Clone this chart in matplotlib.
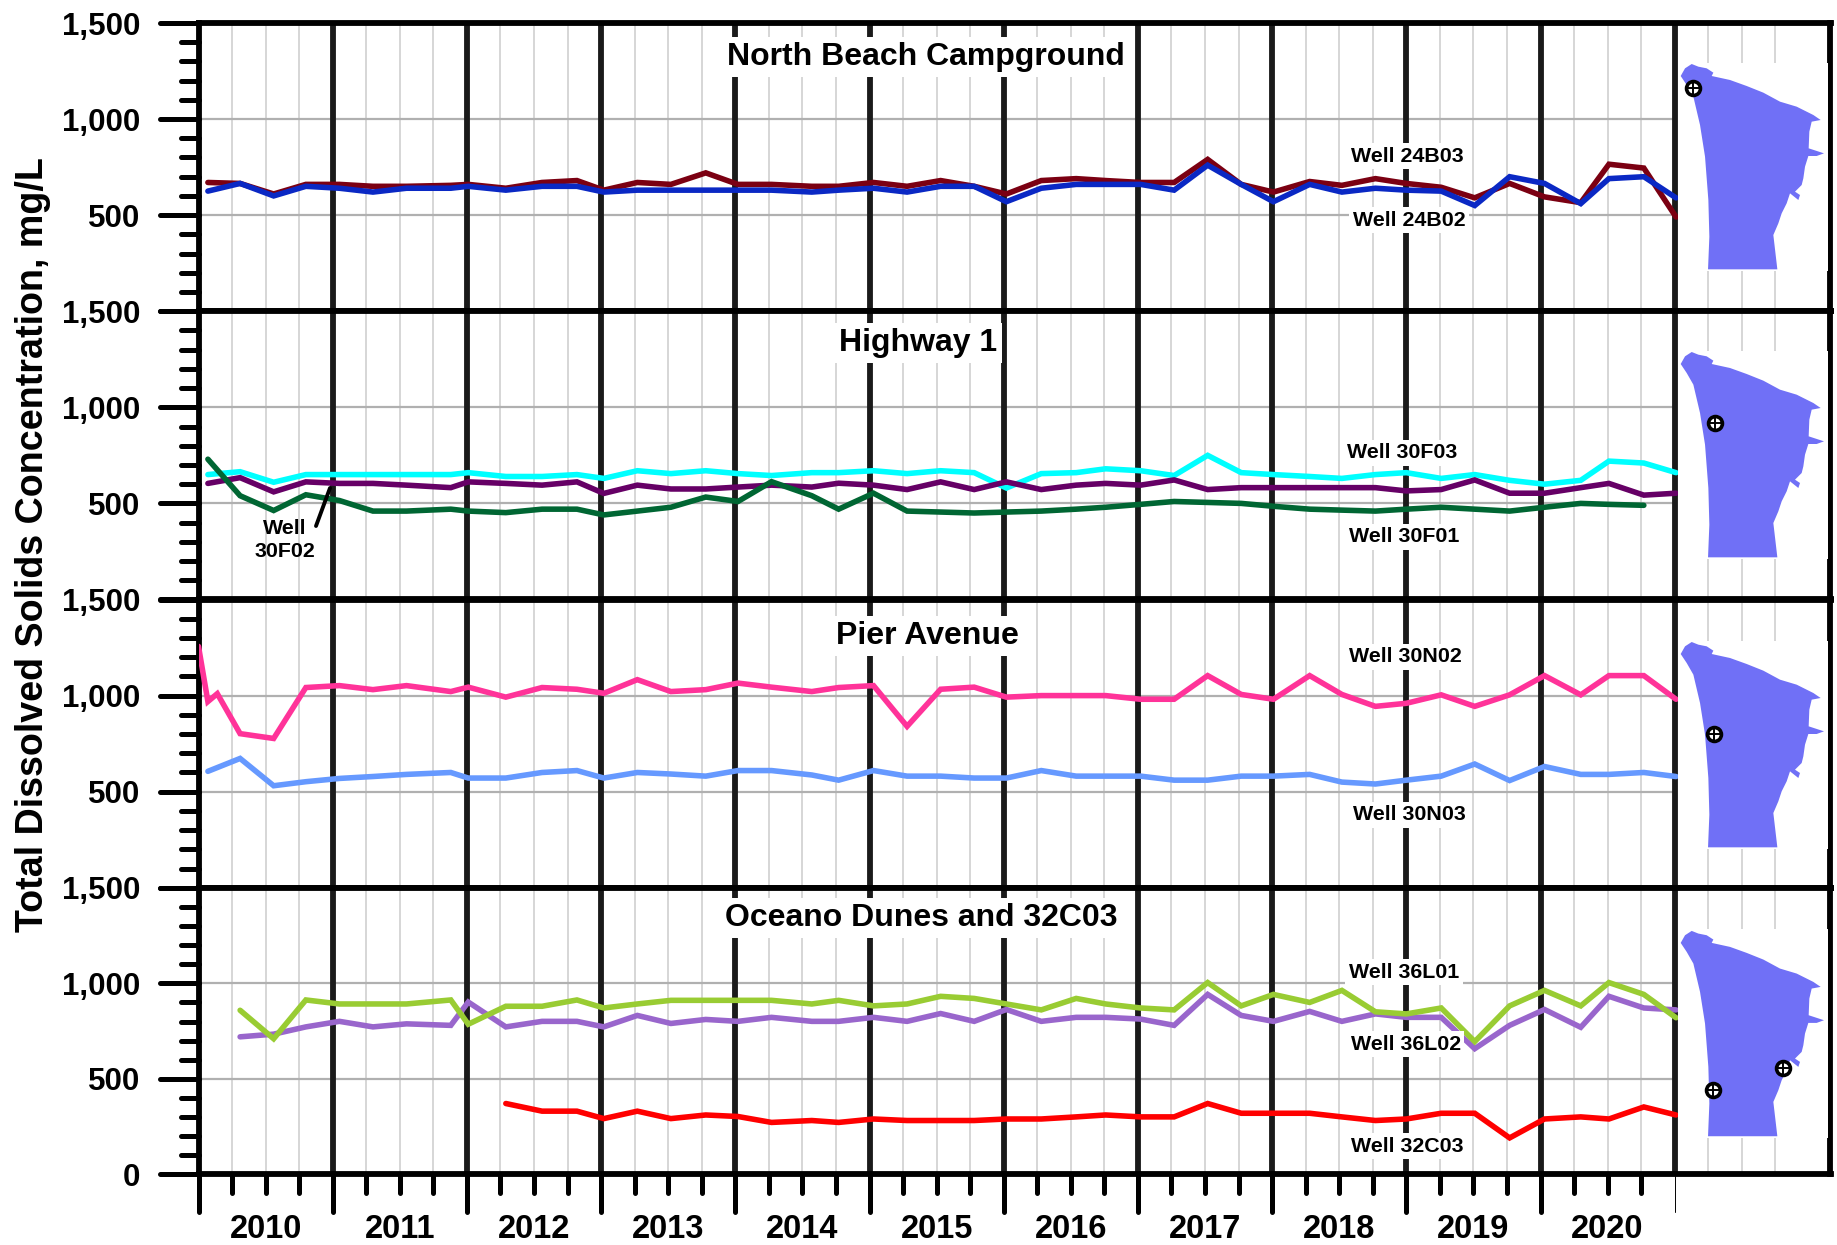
import matplotlib
matplotlib.use("Agg")
import matplotlib.pyplot as plt
from matplotlib.markers import MarkerStyle
from matplotlib.ticker import FixedLocator, FuncFormatter

plt.rcParams['font.family'] = ['Liberation Sans', 'DejaVu Sans']
plt.rcParams['font.weight'] = 'bold'

W, H = 1837, 1245

dates = [2010.07, 2010.31, 2010.56, 2010.80, 2011.05, 2011.30, 2011.55, 2011.88, 2012.01, 2012.29,
         2012.56, 2012.82, 2013.02, 2013.27, 2013.52, 2013.78, 2014.02, 2014.27, 2014.57, 2014.77,
         2015.03, 2015.28, 2015.53, 2015.78, 2016.02, 2016.28, 2016.54, 2016.76, 2017.02, 2017.27,
         2017.52, 2017.77, 2018.01, 2018.28, 2018.52, 2018.77, 2019.00, 2019.26, 2019.51, 2019.77,
         2020.03, 2020.30, 2020.51, 2020.77, 2021.01]
dates_30n02 = [2010.00, 2010.07, 2010.14] + dates[1:]

w24b03 = [670, 665, 610, 660, 660, 650, 650, 655, 660, 640, 670, 680, 630, 670, 660, 720, 660, 660, 650, 650,
          670, 650, 680, 650, 610, 680, 690, 680, 670, 670, 790, 660, 620, 675, 655, 690, 665, 645, 590, 665,
          595, 565, 765, 745, 490]
w24b02 = [625, 665, 600, 650, 640, 620, 640, 640, 650, 630, 650, 650, 620, 630, 630, 630, 630, 630, 620, 630,
          640, 620, 650, 650, 570, 640, 660, 660, 660, 630, 760, 660, 570, 660, 620, 640, 630, 625, 550, 700,
          665, 560, 690, 700, 590]
w30f03 = [650, 665, 610, 650, 650, 650, 650, 650, 660, 640, 640, 650, 630, 670, 655, 670, 655, 645, 660, 660,
          670, 655, 670, 660, 580, 655, 660, 680, 670, 645, 750, 660, 650, 640, 630, 650, 660, 630, 650, 620,
          600, 620, 720, 710, 660]
w30f02 = [604, 634, 560, 612, 604, 604, 595, 582, 612, 604, 595, 612, 552, 595, 575, 575, 585, 595, 585, 605,
          595, 572, 612, 572, 612, 572, 595, 604, 595, 622, 572, 582, 582, 582, 582, 582, 565, 572, 622, 553,
          553, 582, 604, 543, 553]
w30f01 = [730, 540, 463, 545, 515, 460, 460, 470, 460, 452, 470, 470, 440, 460, 480, 533, 510, 613, 540, 470,
          553, 460, 455, 450, 455, 460, 470, 480, 495, 510, 505, 500, 485, 470, 465, 460, 470, 480, 470, 460,
          480, 500, 495, 490]
w30n02 = [1256, 969, 1010, 802, 777, 1042, 1052, 1031, 1052, 1021, 1044, 992, 1042, 1033, 1012, 1083, 1021, 1031,
          1065, 1044, 1021, 1042, 1052, 840, 1033, 1044, 992, 1000, 1000, 1000, 981, 981, 1104, 1006, 981, 1104,
          1006, 944, 960, 1004, 944, 1004, 1104, 1004, 1104, 1104, 981]
w30n03 = [606, 673, 531, 552, 569, 579, 590, 600, 571, 571, 600, 610, 571, 600, 592, 581, 610, 610, 587, 560,
          610, 581, 581, 571, 571, 610, 581, 581, 581, 560, 560, 581, 581, 590, 550, 540, 560, 581, 644, 558,
          631, 590, 590, 600, 579]
w36l02 = [720, 734, 772, 801, 772, 788, 780, 902, 772, 801, 801, 772, 832, 790, 811, 801, 822, 801, 801,
          822, 801, 842, 801, 863, 801, 822, 822, 813, 780, 942, 832, 801, 853, 801, 840, 822, 822, 658, 780,
          863, 770, 932, 871, 861]
w36l01 = [859, 710, 913, 892, 892, 892, 913, 786, 880, 880, 913, 871, 892, 911, 911, 911, 911, 892, 911,
          882, 892, 932, 921, 892, 861, 921, 892, 871, 861, 1004, 882, 942, 900, 963, 851, 840, 871, 695, 882,
          963, 882, 1004, 942, 820]
w32c03 = [371, 331, 331, 292, 331, 292, 311, 303, 272, 282, 272, 290, 282, 282, 282, 290, 290, 301, 311, 301,
          301, 371, 320, 320, 320, 301, 282, 290, 320, 320, 191, 290, 301, 290, 353, 311]

years = list(range(2010, 2021))
y_labels = {1500: '1,500', 1000: '1,000', 500: '500'}

map_x = [32, 45, 65, 85, 110, 130, 125, 180, 230, 280, 330, 380, 430, 452, 425, 418, 416, 462, 440, 415,
         405, 400, 395, 375, 390, 385, 360, 350, 335, 325, 310, 322, 114, 118, 115, 105, 90, 70, 50]
map_y = [78, 55, 42, 50, 55, 68, 78, 90, 108, 128, 155, 170, 195, 210, 215, 245, 295, 310, 318, 318,
         350, 385, 405, 425, 435, 450, 430, 460, 490, 520, 555, 658, 658, 560, 450, 320, 225, 140, 105]
well_x = [[68], [136], [132], [340, 130]]
well_y = [[113], [256], [318], [452, 520]]

tops = [23, 311.2, 599.5, 887.8]
bottoms = [311.2, 599.5, 887.8, 1174.4]
map_off = [0, 288, 578, 866.9]
LEFT, RIGHT = 198.5, 1830.5
XMAX = 2010 + (RIGHT - LEFT) / 134.2

panels = [
    [(dates, w24b03, '#7b0012'), (dates, w24b02, '#0a28c4')],
    [(dates, w30f03, '#00ffff'), (dates, w30f02, '#660066'), (dates[:44], w30f01, '#006633')],
    [(dates_30n02, w30n02, '#ff3399'), (dates, w30n03, '#6699ff')],
    [(dates[1:], w36l02, '#9966cc'), (dates[1:], w36l01, '#99cc33'), (dates[9:], w32c03, '#ff0000')],
]

fig = plt.figure(figsize=(W / 100, H / 100), dpi=100, facecolor='white')


def rect(x0, y0, x1, y1):
    return [x0 / W, 1 - y1 / H, (x1 - x0) / W, (y1 - y0) / H]


def ftext(x, y, s, size, **kw):
    fig.text(x / W, 1 - y / H, s, fontsize=size, ha='center', va='center', zorder=20,
             fontweight='bold', color='black', **kw)


def round_ticks(lines):
    for ln in lines:
        ln.set_marker(MarkerStyle(ln.get_marker(), capstyle='round'))


quarters = [y + q for y in range(2010, 2022) for q in (0.25, 0.5, 0.75)]
quarters = [q for q in quarters if q < XMAX]

for i, series in enumerate(panels):
    ax = fig.add_axes(rect(LEFT, tops[i], RIGHT, bottoms[i]))
    ax.set_xlim(2010, XMAX)
    ax.set_ylim(0, 1500)
    for sp in ax.spines.values():
        sp.set_linewidth(4.2)
        sp.set_color('black')
    ax.vlines(quarters, 0, 1500, color='#d0d0d0', lw=1.2, zorder=1)
    ax.hlines([500, 1000], 2010, 2021, color='#b0b0b0', lw=1.6, zorder=1.2)
    ax.vlines(years[1:] + [2021], 0, 1500, color='#1a1a1a', lw=4.2, zorder=1.5)
    for xs, ys, c in series:
        ax.plot(xs, ys, color=c, lw=4.0, zorder=3, solid_joinstyle='miter', solid_capstyle='round')

    ax.yaxis.set_major_locator(FixedLocator([0, 500, 1000, 1500]))
    ax.yaxis.set_minor_locator(FixedLocator([v for v in range(100, 1500, 100) if v % 500]))
    last = i == 3
    ax.yaxis.set_major_formatter(FuncFormatter(
        lambda v, p, last=last: y_labels.get(int(v), '0' if last else '')))
    ax.tick_params(axis='y', which='major', length=28, width=3.6, pad=14, labelsize=22.5)
    ax.tick_params(axis='y', which='minor', length=13, width=3.6)
    round_ticks(ax.yaxis.get_ticklines())
    round_ticks(ax.yaxis.get_ticklines(minor=True))

    if last:
        ax.set_xticks(years + [2021])
        ax.set_xticklabels([])
        ax.set_xticks([q for q in quarters if q < 2021], minor=True)
        ax.tick_params(axis='x', which='major', length=27, width=3.6)
        ax.tick_params(axis='x', which='minor', length=14, width=3.6)
        round_ticks(ax.xaxis.get_ticklines())
        round_ticks(ax.xaxis.get_ticklines(minor=True))
        ax.xaxis.get_major_ticks()[-1].tick1line.set_markeredgewidth(0.7)
        for y in years:
            ax.annotate(str(y), (y + 0.5, 0), xytext=(0, -40), textcoords='offset points',
                        ha='center', va='center', fontsize=23.5, fontweight='bold')
    else:
        ax.set_xticks([])

    # location map (coordinates in a local map frame)
    off = map_off[i]
    m = fig.add_axes(rect(1677.7, 62.5 + off, 1828, 271 + off), zorder=5)
    m.set_xlim(23, 474)
    m.set_ylim(663, 37.5)
    m.set_xticks([])
    m.set_yticks([])
    m.set_facecolor('white')
    for sp in m.spines.values():
        sp.set_visible(False)
    m.fill(map_x, map_y, color='#7070f6', lw=0)
    m.scatter(well_x[i], well_y[i], s=100, fc='white', ec='black', lw=2.6, zorder=3)
    m.scatter(well_x[i], well_y[i], s=100, marker='+', c='black', lw=1.4, zorder=4)

title_box = dict(fc='white', ec='none', pad=3.5)
ftext(926, 57, 'North Beach Campground', 23, bbox=title_box)
ftext(918, 343, 'Highway 1', 23, bbox=title_box)
ftext(927, 636, 'Pier Avenue', 23, bbox=title_box)
ftext(921.5, 918, 'Oceano Dunes and 32C03', 23, bbox=title_box)

lab_box = dict(fc='white', ec='none', pad=2.5)
for x, y, s in [(1407, 156, 'Well 24B03'), (1409, 220, 'Well 24B02'), (1402, 453, 'Well 30F03'),
                (1404, 537, 'Well 30F01'), (1405, 657, 'Well 30N02'), (1409, 815, 'Well 30N03'),
                (1404, 972, 'Well 36L01'), (1405.6, 1044, 'Well 36L02'), (1407.6, 1146, 'Well 32C03')]:
    ftext(x, y, s, 15.4, bbox=lab_box)
ftext(284.7, 529, 'Well', 15.4)
ftext(284.7, 552, '30F02', 15.4)
fig.add_artist(plt.Line2D([316 / W, 330 / W], [1 - 526 / H, 1 - 488 / H], color='black', lw=2.8,
                          solid_capstyle='round', zorder=20))

ftext(33, 545, 'Total Dissolved Solids Concentration, mg/L', 27.1, rotation=90)

fig.savefig('out.png', dpi=100, facecolor='white')
